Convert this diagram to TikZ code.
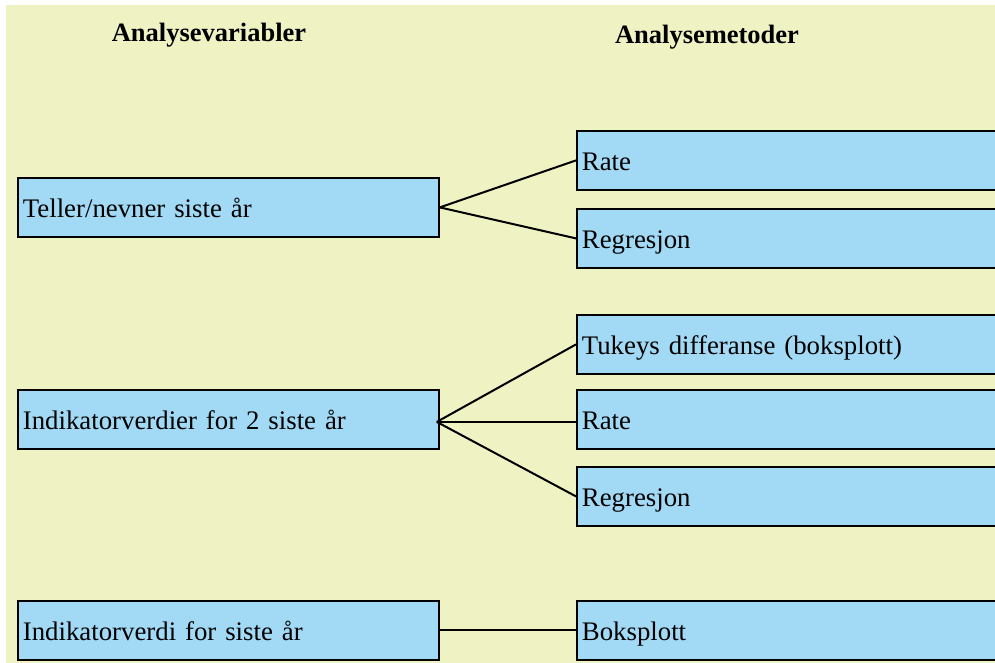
\documentclass[tikz,border=0pt]{standalone}
\usepackage{fontspec}
\setmainfont{Liberation Serif}
\definecolor{bgyellow}{HTML}{EFF3C4}
\definecolor{boxblue}{HTML}{A2DAF6}
\begin{document}
\begin{tikzpicture}[x=1pt,y=-1pt,
  basebox/.style={draw=black, line width=1.8pt, fill=boxblue, anchor=north west,
    minimum height=59pt, inner xsep=5pt, inner ysep=0pt, align=left,
    text height=21pt, text depth=0pt, font=\fontsize{26.8}{30}\selectfont},
  leftbox/.style={basebox, text width=411pt},
  rightbox/.style={basebox, text width=480pt},
  title/.style={anchor=base, font=\fontsize{26.5}{30}\selectfont\bfseries},
  link/.style={line width=2pt}]
\useasboundingbox (0,0) rectangle (995,663);
\clip (0,0) rectangle (995,663);
\fill[bgyellow] (6,5) rectangle (995,663);

\node[title] (t1) at (209,41.7) {Analysevariabler};
\node[title] (t2) at (707,44) {Analysemetoder};

\node[leftbox] (l1) at (17,177) {Teller/nevner siste år};
\node[leftbox] (l2) at (17,389) {Indikatorverdier for 2 siste år};
\node[leftbox] (l3) at (17,600) {Indikatorverdi for siste år};

\node[rightbox] (r1) at (576,130) {Rate};
\node[rightbox] (r2) at (576,208) {Regresjon};
\node[rightbox] (r3) at (576,314) {Tukeys differanse (boksplott)};
\node[rightbox] (r4) at (576,389) {Rate};
\node[rightbox] (r5) at (576,466) {Regresjon};
\node[rightbox] (r6) at (576,600) {Boksplott};

\coordinate (hub2) at ([xshift=-3pt,yshift=-2.5pt]l2.east);

\draw[link] (l1.east) -- (r1.west);
\draw[link] (l1.east) -- (r2.west);
\draw[link] (hub2) -- (r3.west);
\draw[link] (hub2) -- (hub2 -| r4.west);
\draw[link] (hub2) -- (r5.west);
\draw[link] (l3.east) -- (r6.west);
\end{tikzpicture}
\end{document}
